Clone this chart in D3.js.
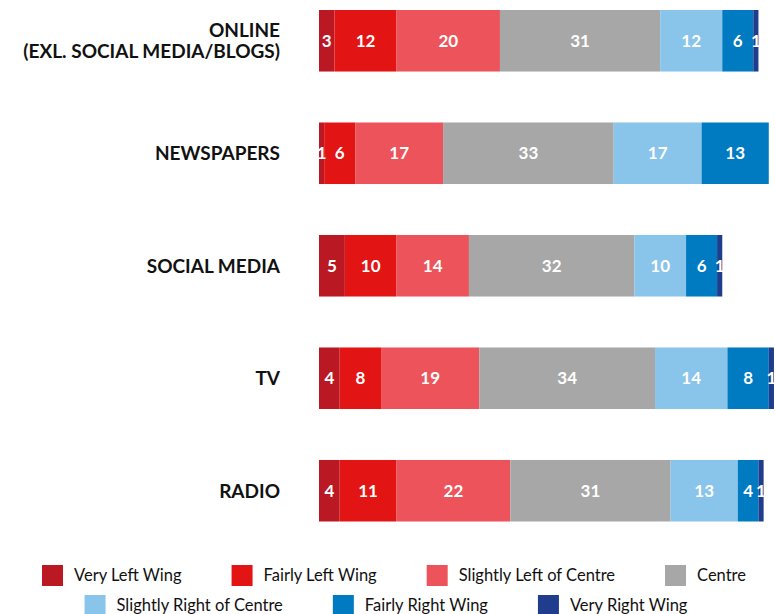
<!DOCTYPE html>
<html>
<head>
<meta charset="utf-8">
<script src="https://cdn.jsdelivr.net/npm/d3@7/dist/d3.min.js"></script>
<style>
  html, body { margin: 0; padding: 0; background: #fff; }
  svg { display: block; }
</style>
</head>
<body>
<svg id="chart" width="775" height="614"></svg>
<script>
// Media sources and the political leaning of their audience (percent)
const categories = ["ONLINE\n(EXL. SOCIAL MEDIA/BLOGS)", "NEWSPAPERS", "SOCIAL MEDIA", "TV", "RADIO"];
const seriesNames = ["Very Left Wing", "Fairly Left Wing", "Slightly Left of Centre", "Centre",
                     "Slightly Right of Centre", "Fairly Right Wing", "Very Right Wing"];
const seriesColors = ["#BA1823", "#E31414", "#EC535B", "#A7A7A7", "#89C4EB", "#007AC1", "#1F3D8C"];

const veryLeft      = [3, 1, 5, 4, 4];
const fairlyLeft    = [12, 6, 10, 8, 11];
const slightlyLeft  = [20, 17, 14, 19, 22];
const centre        = [31, 33, 32, 34, 31];
const slightlyRight = [12, 17, 10, 14, 13];
const fairlyRight   = [6, 13, 6, 8, 4];
const veryRight     = [1, 0, 1, 1, 1];

const seriesValues = [veryLeft, fairlyLeft, slightlyLeft, centre, slightlyRight, fairlyRight, veryRight];

const svg = d3.select("#chart");
const FONT = "Lato, 'Noto Sans', sans-serif";

const rows = categories.map((c, i) => {
  const r = { category: c };
  seriesNames.forEach((s, j) => { r[s] = seriesValues[j][i]; });
  return r;
});
const stacked = d3.stack().keys(seriesNames)(rows);

const x = d3.scaleLinear().domain([0, 100]).range([319, 836]);
const y = d3.scaleBand().domain(categories).range([10, 521.5]).paddingInner(0.453).paddingOuter(0);
const color = d3.scaleOrdinal().domain(seriesNames).range(seriesColors);

// Bars
const layers = svg.append("g").selectAll("g")
  .data(stacked).join("g")
  .attr("fill", d => color(d.key));

layers.selectAll("rect")
  .data(d => d.map(p => ({ p, key: d.key })))
  .join("rect")
  .filter(d => d.p[1] - d.p[0] > 0)
  .attr("x", d => x(d.p[0]))
  .attr("y", d => y(d.p.data.category))
  .attr("width", d => x(d.p[1]) - x(d.p[0]))
  .attr("height", y.bandwidth());

// Value labels inside segments
const labels = svg.append("g");
stacked.forEach(layer => {
  layer.forEach(p => {
    const v = p[1] - p[0];
    if (v <= 0) return;
    labels.append("text")
      .attr("x", (x(p[0]) + x(p[1])) / 2)
      .attr("y", y(p.data.category) + y.bandwidth() / 2)
      .attr("dy", "0.36em")
      .attr("text-anchor", "middle")
      .attr("fill", "#fff")
      .attr("font-family", FONT)
      .attr("font-weight", 700)
      .attr("font-size", 17)
      .text(v);
  });
});

// Category labels
const yAxis = svg.append("g");
categories.forEach(c => {
  const lines = c.split("\n");
  const cy = y(c) + y.bandwidth() / 2;
  const lh = 21;
  const t = yAxis.append("text")
    .attr("text-anchor", "end")
    .attr("fill", "#111")
    .attr("font-family", FONT)
    .attr("font-weight", 700)
    .attr("font-size", 19);
  lines.forEach((ln, k) => {
    t.append("tspan")
      .attr("x", 280)
      .attr("y", cy - (lines.length - 1) * lh / 2 + k * lh)
      .attr("dy", "0.36em")
      .text(ln);
  });
});

// Legend: two centred rows
const legendRows = [seriesNames.slice(0, 4), seriesNames.slice(4)];
const legendY = [565, 595];
const legendCenter = [394, 386];
const sw = 21, gapText = 11, gapItem = 50;
legendRows.forEach((names, ri) => {
  const g = svg.append("g");
  let cx = 0;
  names.forEach(n => {
    const item = g.append("g").attr("transform", `translate(${cx},0)`);
    item.append("rect").attr("width", sw).attr("height", sw).attr("fill", color(n));
    const t = item.append("text")
      .attr("x", sw + gapText)
      .attr("y", sw / 2)
      .attr("dy", "0.36em")
      .attr("fill", "#111")
      .attr("font-family", FONT)
      .attr("font-size", 16.5)
      .text(n);
    cx += sw + gapText + t.node().getComputedTextLength() + gapItem;
  });
  const total = cx - gapItem;
  g.attr("transform", `translate(${legendCenter[ri] - total / 2},${legendY[ri]})`);
});
</script>
</body>
</html>
